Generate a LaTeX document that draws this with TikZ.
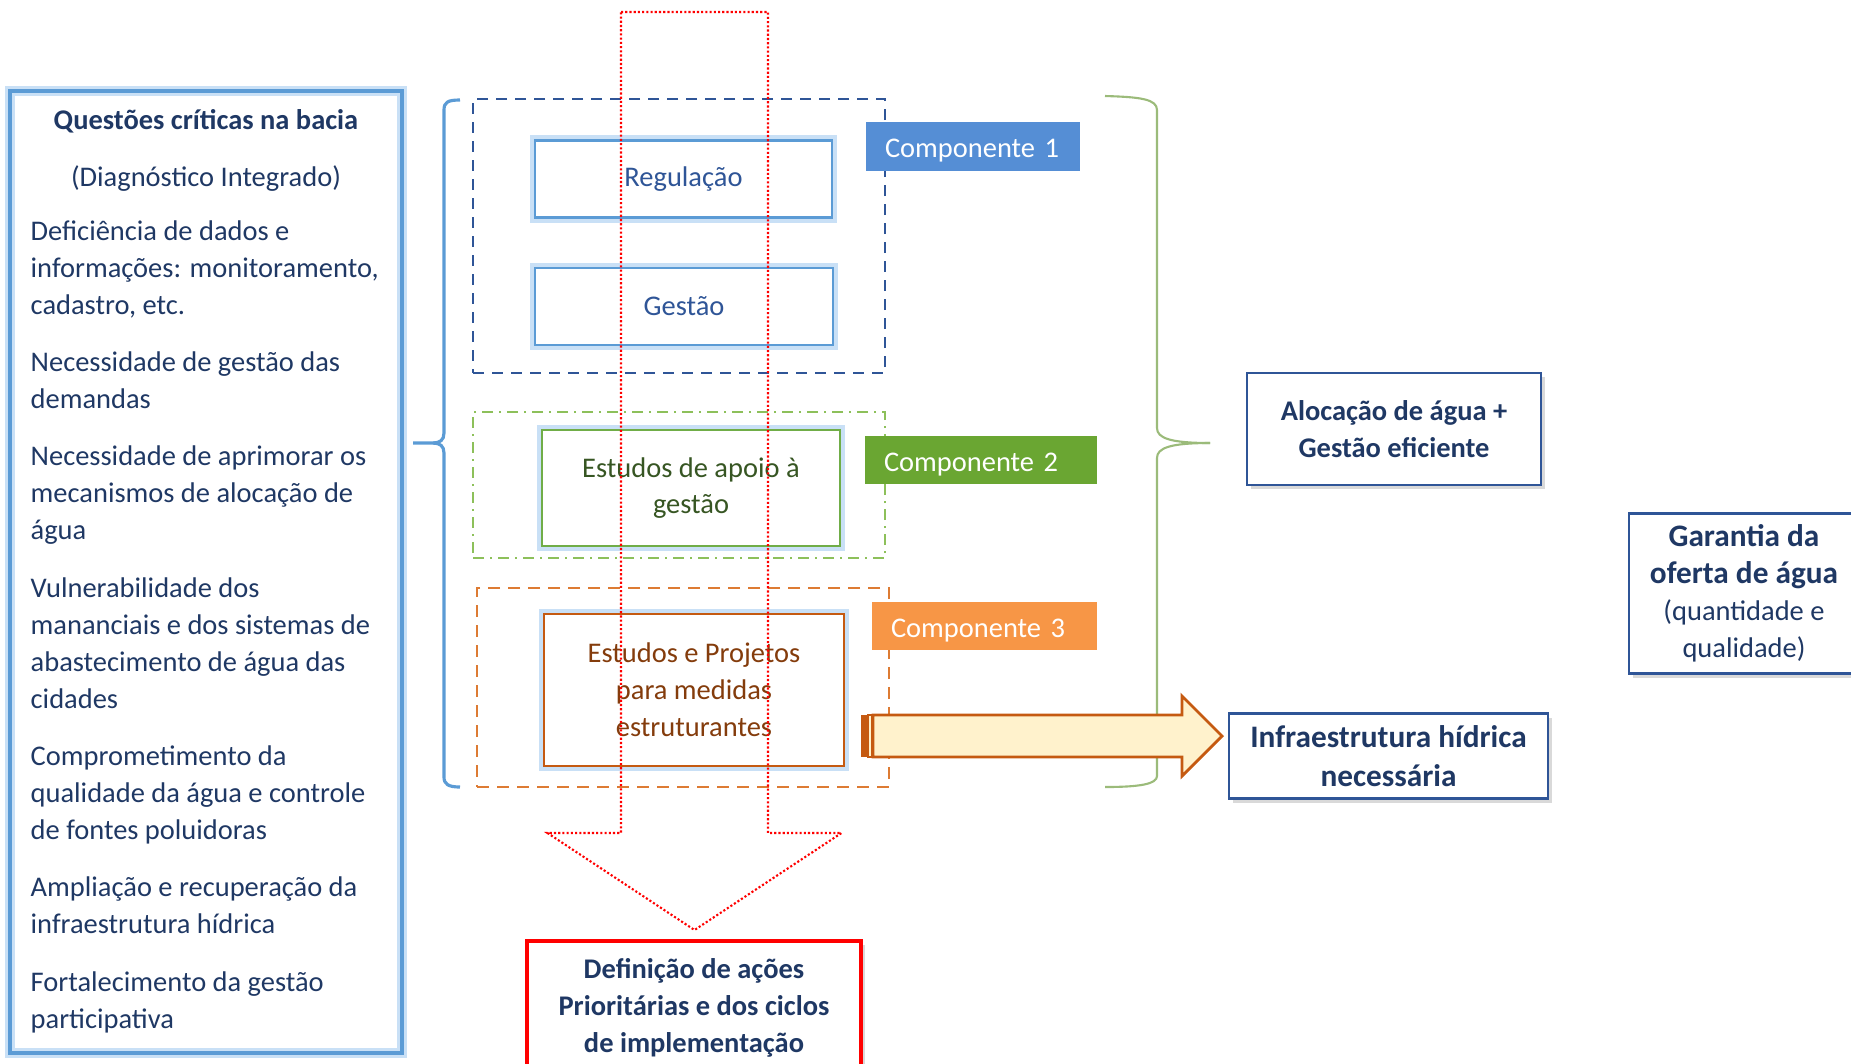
\documentclass[tikz,border=0pt]{standalone}
\usepackage{fontspec}
\setmainfont{Carlito}
\usetikzlibrary{shadows}

\definecolor{txtblue}{HTML}{1F3864}
\definecolor{lineblue}{HTML}{5B9BD5}
\definecolor{glowblue}{HTML}{C9E0F6}
\definecolor{darkblue}{HTML}{2F5597}
\definecolor{labelblue}{HTML}{558ED5}
\definecolor{framegreen}{HTML}{8DC05A}
\definecolor{boxgreen}{HTML}{70AD47}
\definecolor{txtgreen}{HTML}{375623}
\definecolor{labelgreen}{HTML}{6AA632}
\definecolor{frameorange}{HTML}{DD7B33}
\definecolor{boxorange}{HTML}{C55A11}
\definecolor{txtbrown}{HTML}{843C0C}
\definecolor{labelorange}{HTML}{F79646}
\definecolor{arrowfill}{HTML}{FFF2CC}
\definecolor{bracegreen}{HTML}{9BBB7A}

\tikzset{
  glow/.style={preaction={draw=glowblue, line width=3pt}},
  questbox/.style={draw=lineblue, line width=0.9pt, glow},
  item/.style={anchor=base west, align=left, text=txtblue, inner sep=0pt},
  innerbox/.style={draw, line width=0.8pt, fill=white, glow, align=center},
  complabel/.style={text=white, align=left, inner xsep=1.9mm, inner ysep=0pt,
    text height=7.9pt, text depth=1.6pt},
  resbox/.style={draw=darkblue, line width=0.8pt, fill=white, align=center,
    text=txtblue, font=\fontsize{8.1}{10.5}\selectfont\bfseries,
    drop shadow={shadow xshift=0.4mm, shadow yshift=-0.4mm, opacity=0.3}},
  bigbold/.style={font=\fontsize{8.9}{11.2}\selectfont\bfseries},
  redarrow/.style={draw=red, line width=0.6pt, dash pattern=on 0.6pt off 0.6pt},
}

\begin{document}
\begin{tikzpicture}[x=0.1mm, y=-0.1mm, every node/.style={font=\fontsize{8.1}{10.5}\selectfont}]
  \useasboundingbox (0,0) rectangle (1851,1063);

  % left column
  \node[questbox, minimum width=39.2mm, minimum height=96.2mm] (quest) at (206,572) {};
  \node[text=txtblue, font=\fontsize{8.1}{10.5}\selectfont\bfseries] (questtitle) at (206,121) {Questões críticas na bacia};
  \node[text=txtblue] (questsub) at (206,179) {(Diagnóstico Integrado)};
  % y = baseline of the last line of each item
  \foreach \y/\txt [count=\i] in {
      314/{Deficiência de dados e\\informações: monitoramento,\\cadastro, etc.},
      408/{Necessidade de gestão das\\demandas},
      539/{Necessidade de aprimorar os\\mecanismos de alocação de\\água},
      708/{Vulnerabilidade dos\\mananciais e dos sistemas de\\abastecimento de água das\\cidades},
      839/{Comprometimento da\\qualidade da água e controle\\de fontes poluidoras},
      933/{Ampliação e recuperação da\\infraestrutura hídrica},
      1028/{Fortalecimento da gestão\\participativa}}
    \node[item] (item\i) at (30,\y) {\txt};

  % left bracket
  \draw[lineblue, line width=0.9pt] (460,100) .. controls (448,100) and (444,102) .. (444,110)
    -- (444,433) .. controls (444,440) and (440,443) .. (433,443) -- (413,443);
  \draw[lineblue, line width=0.9pt] (433,443) .. controls (440,443) and (444,446) .. (444,453)
    -- (444,777) .. controls (444,784) and (448,787) .. (460,787);

  % component 1
  \node[draw=darkblue, line width=0.6pt, dash pattern=on 1.1mm off 0.8mm,
    minimum width=41.2mm, minimum height=27.4mm] (group1) at (679,236) {};
  \node[innerbox, draw=lineblue, text=darkblue, minimum width=29.7mm, minimum height=7.7mm] (regulacao) at (683.5,179) {Regulação};
  \node[innerbox, draw=lineblue, text=darkblue, minimum width=29.8mm, minimum height=7.7mm] (gestao) at (684,306.5) {Gestão};
  \node[complabel, fill=labelblue, text width=17.6mm, minimum height=4.9mm] (label1) at (973,146.5) {Componente 1};

  % component 2
  \node[draw=framegreen, line width=0.6pt, dash pattern=on 1.1mm off 0.6mm on 0.2mm off 0.6mm,
    minimum width=41.2mm, minimum height=14.6mm] (group2) at (679,485) {};
  \node[innerbox, draw=boxgreen, text=txtgreen, minimum width=29.8mm, minimum height=11.6mm] (apoio) at (691,488) {Estudos de apoio à\\gestão};
  \node[complabel, fill=labelgreen, text width=19.4mm, minimum height=4.8mm] (label2) at (981,460) {Componente 2};

  % component 3
  \node[draw=frameorange, line width=0.6pt, dash pattern=on 1.2mm off 0.8mm,
    minimum width=41.2mm, minimum height=19.9mm] (group3) at (683,687.5) {};
  \node[innerbox, draw=boxorange, text=txtbrown, minimum width=30mm, minimum height=15.2mm] (projetos) at (694,690) {Estudos e Projetos\\para medidas\\estruturantes};
  \node[complabel, fill=labelorange, text width=18.7mm, minimum height=4.8mm] (label3) at (984.5,626) {Componente 3};

  % right brace
  \draw[bracegreen, line width=0.6pt] (1105,96) .. controls (1140,97) and (1157,99) .. (1157,110)
    -- (1157,428) .. controls (1157,438) and (1170,443) .. (1210,443);
  \draw[bracegreen, line width=0.6pt] (1210,443) .. controls (1170,443) and (1157,448) .. (1157,458)
    -- (1157,776) .. controls (1157,784) and (1140,787) .. (1105,787);

  % results
  \node[resbox, minimum width=29.4mm, minimum height=11.2mm] (alocacao) at (1394,429) {Alocação de água +\\Gestão eficiente};
  \node[resbox, bigbold, minimum width=31.9mm, minimum height=7.8mm] (infra) at (1388.5,756) {Infraestrutura hídrica\\necessária};
  \node[resbox, minimum width=23mm, minimum height=15.7mm] (garantia) at (1744,593.5)
    {{\fontsize{8.9}{11.2}\selectfont Garantia da}\\{\fontsize{8.9}{11.2}\selectfont oferta de água}\\\mdseries(quantidade e\\\mdseries qualidade)};
  \node[resbox, draw=red, line width=1pt, minimum width=33.4mm, minimum height=13.4mm] (definicao) at (694,1008)
    {Definição de ações\\Prioritárias e dos ciclos\\de implementação};

  % striped arrow to infra
  \coordinate (stripetail) at (861,736);
  \fill[boxorange] (stripetail) ++(0,-21) rectangle ++(6,42);
  \draw[boxorange, fill=arrowfill, line width=0.5pt] (stripetail) ++(7,-21) rectangle ++(4,42);
  \draw[boxorange, fill=arrowfill, line width=0.8pt] (stripetail) ++(12,-21) -- ++(309,0) -- ++(0,-19)
    -- ++(40,40) -- ++(-40,40) -- ++(0,-19) -- ++(-309,0) -- cycle;

  % red down arrow
  \coordinate (downtop) at (694.5,12);
  \coordinate (downtip) at (694.5,930);
  \draw[redarrow] (downtop) ++(-73.5,0) -- ++(147,0) -- ++(0,821) -- ++(73.5,0) -- (downtip)
    -- ++(-147,-97) -- ++(73.5,0) -- cycle;
\end{tikzpicture}
\end{document}
